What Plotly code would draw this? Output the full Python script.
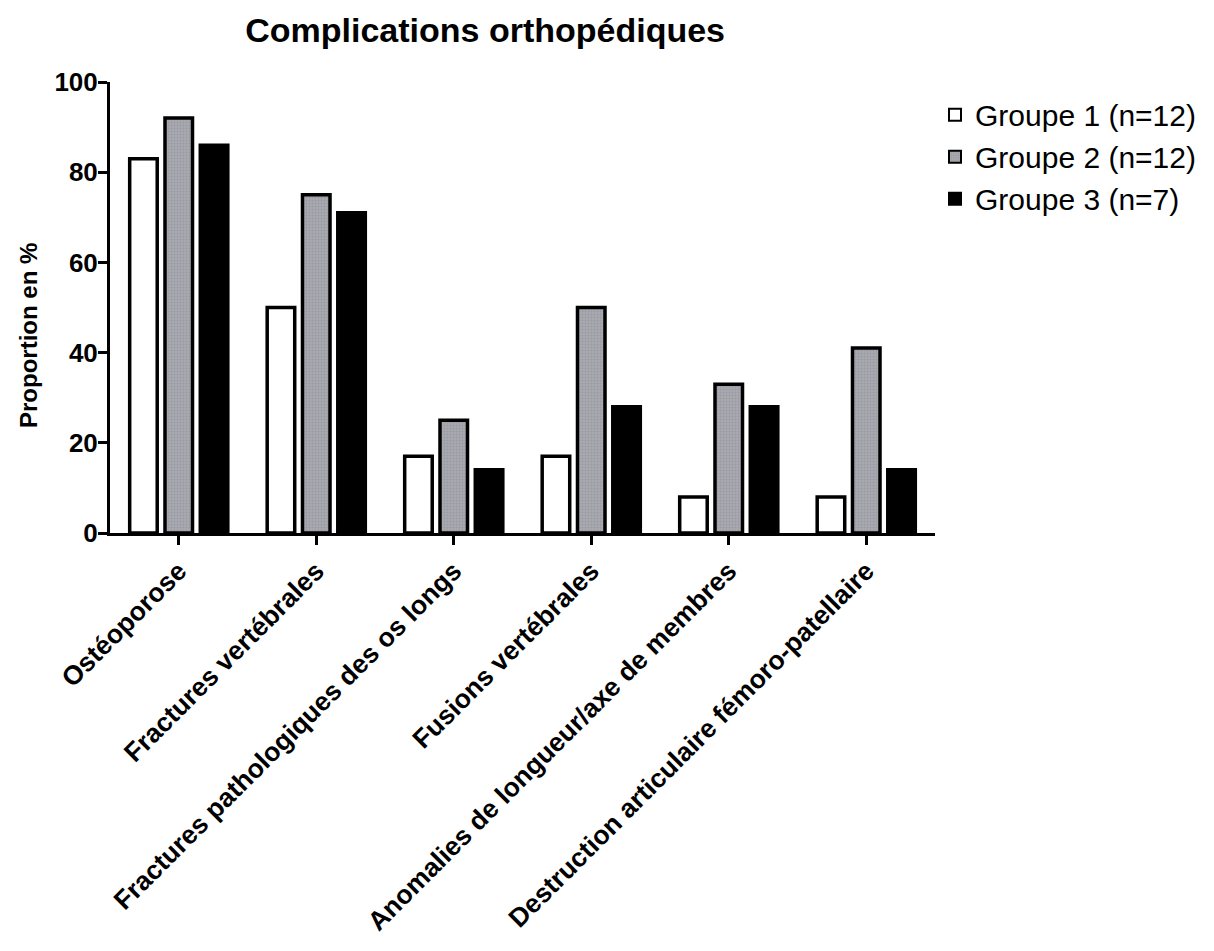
import plotly.graph_objects as go

categories = ["Ostéoporose", "Fractures vertébrales", "Fractures pathologiques des os longs",
              "Fusions vertébrales", "Anomalies de longueur/axe de membres",
              "Destruction articulaire fémoro-patellaire"]
groupe1 = [83, 50, 17, 17, 8, 8]
groupe2 = [92, 75, 25, 50, 33, 41]
groupe3 = [86, 71, 14, 28, 28, 14]
series_names = ["Groupe 1 (n=12)", "Groupe 2 (n=12)", "Groupe 3 (n=7)"]
y_ticks = [0, 20, 40, 60, 80, 100]

FONT = "Arial, Liberation Sans, sans-serif"

fig = go.Figure()
fig.add_trace(go.Bar(x=categories, y=groupe1, name=series_names[0],
                     marker=dict(color="white", line=dict(color="black", width=3.5))))
fig.add_trace(go.Bar(x=categories, y=groupe2, name=series_names[1],
                     marker=dict(color="#a2a2aa", line=dict(color="black", width=3.5),
                                 pattern=dict(shape=".", fgcolor="#8a8a92", bgcolor="#a8a8b0", size=3, solidity=0.3))))
fig.add_trace(go.Bar(x=categories, y=groupe3, name=series_names[2],
                     marker=dict(color="black", line=dict(color="black", width=3.5))))

fig.update_layout(
    width=1214, height=951,
    barmode="group", bargap=0.23, bargroupgap=0.22,
    plot_bgcolor="white", paper_bgcolor="white",
    margin=dict(l=102, r=287, t=74, b=426, autoexpand=False),
    font=dict(family=FONT, color="black"),
    title=dict(text="Complications orthopédiques", x=0.393, xanchor="center", xref="container",
               y=0.977, yanchor="middle",
               font=dict(size=34, family=FONT, color="black", weight="bold")),
    legend=dict(x=1.0, xanchor="left", y=0.985, yanchor="top",
                font=dict(size=30, family=FONT, color="black"),
                itemsizing="constant", bgcolor="rgba(0,0,0,0)"),
    showlegend=True,
    annotations=[dict(text="Proportion en %", xref="paper", yref="paper",
                      x=-0.0994, y=0.439, xanchor="center", yanchor="middle",
                      textangle=-90, showarrow=False,
                      font=dict(size=24, family=FONT, color="black", weight="bold"))],
)
fig.update_xaxes(showline=True, linecolor="black", linewidth=3, ticks="outside",
                 ticklen=9, tickwidth=3, tickcolor="black", tickangle=-45,
                 tickfont=dict(size=26.5, family=FONT, color="black", weight="bold"),
                 showgrid=False, range=[-0.5, 5.5], automargin=False)
fig.update_yaxes(range=[0, 100], tickvals=y_ticks, showline=True, linecolor="black",
                 linewidth=3, ticks="outside", ticklen=9, tickwidth=3, tickcolor="black",
                 tickfont=dict(size=26, family=FONT, color="black", weight="bold"),
                 ticklabelstandoff=-5, automargin=False,
                 showgrid=False, zeroline=False)

fig.write_html("out.html")
